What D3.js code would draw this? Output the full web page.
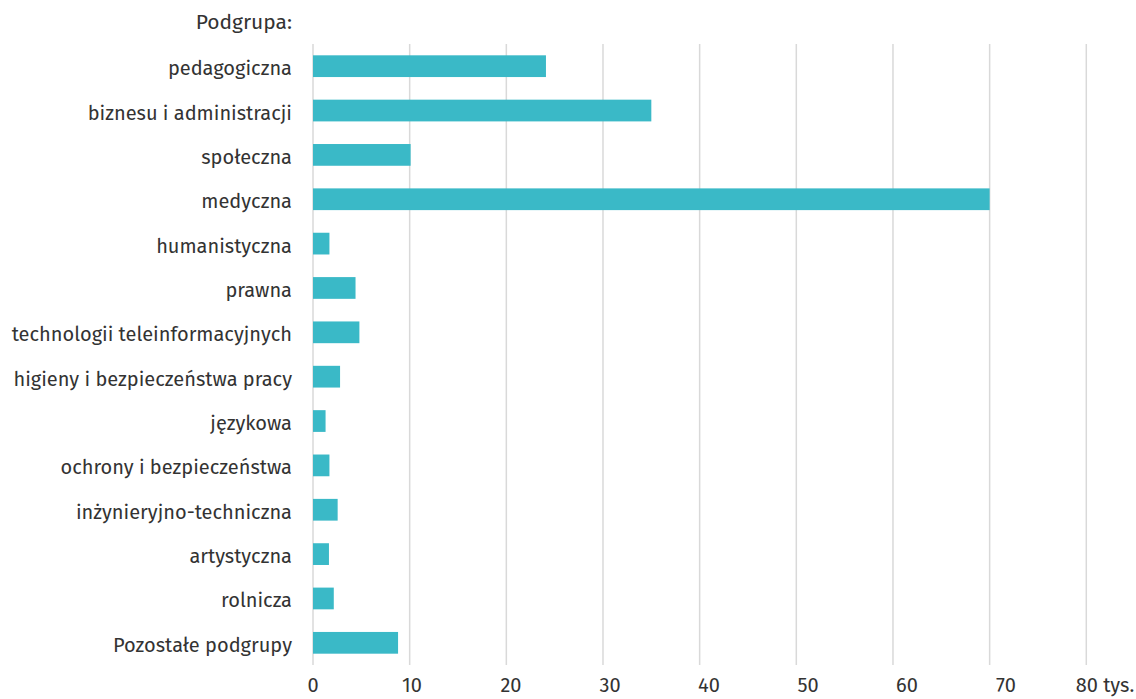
<!DOCTYPE html>
<html>
<head>
  <meta charset="utf-8">
  <title>Podgrupa</title>
  <style>
    body { margin: 0; background: #fff; }
    svg text { font-family: "Fira Sans", Roboto, "Noto Sans", sans-serif; fill: #333; }
  </style>
</head>
<body>
  <svg width="1136" height="699" class="svg-chart"></svg>
<script src="https://cdnjs.cloudflare.com/ajax/libs/d3/7.8.5/d3.min.js"></script>
<script type="text/javascript">
  var categories = ['pedagogiczna', 'biznesu i administracji', 'społeczna', 'medyczna',
                    'humanistyczna', 'prawna', 'technologii teleinformacyjnych',
                    'higieny i bezpieczeństwa pracy', 'językowa', 'ochrony i bezpieczeństwa',
                    'inżynieryjno-techniczna', 'artystyczna', 'rolnicza', 'Pozostałe podgrupy']
  var values = [24.1, 35.0, 10.1, 70.0, 1.7, 4.4, 4.8, 2.8, 1.3, 1.7, 2.55, 1.65, 2.15, 8.8]
  var ticks = [0, 10, 20, 30, 40, 50, 60, 70, 80]
  var tickLabels = ['0', '10', '20', '30', '40', '50', '60', '70', '80 tys.']

  var svg = d3.select('.svg-chart')
  var plotLeft = 313, plotRight = 1086.3, plotTop = 44, plotBottom = 665

  var x = d3.scaleLinear().domain([0, 80]).range([plotLeft, plotRight])
  // tick labels are spread a bit wider than the gridlines in the original
  var xLabel = d3.scaleLinear().domain([0, 80]).range([plotLeft, 1105])
  var y = d3.scaleBand().domain(categories).range([plotTop, plotBottom]).paddingInner(0.51).paddingOuter(0.255)

  // gridlines
  svg.append('g').selectAll('line')
    .data(ticks)
    .enter()
    .append('line')
    .attr('x1', function(d){ return x(d) })
    .attr('x2', function(d){ return x(d) })
    .attr('y1', plotTop)
    .attr('y2', plotBottom)
    .attr('stroke', '#d9d9d9')
    .attr('stroke-width', 1.5)

  // x tick labels
  svg.append('g').selectAll('text')
    .data(ticks)
    .enter()
    .append('text')
    .attr('x', function(d){ return xLabel(d) })
    .attr('y', 692)
    .attr('text-anchor', 'middle')
    .style('font-size', '20px')
    .text(function(d, i){ return tickLabels[i] })

  // bars
  svg.append('g').selectAll('rect')
    .data(values)
    .enter()
    .append('rect')
    .attr('x', x(0))
    .attr('y', function(d, i){ return y(categories[i]) })
    .attr('width', function(d){ return x(d) - x(0) })
    .attr('height', y.bandwidth())
    .attr('fill', '#3ab9c7')

  // category labels
  svg.append('g').selectAll('text')
    .data(categories)
    .enter()
    .append('text')
    .attr('x', 292)
    .attr('y', function(d){ return y(d) + y.bandwidth() / 2 })
    .attr('dy', '0.45em')
    .attr('text-anchor', 'end')
    .style('font-size', '20px')
    .text(function(d){ return d })

  svg.append('text')
    .attr('x', 292)
    .attr('y', 22)
    .attr('dy', '0.35em')
    .attr('text-anchor', 'end')
    .style('font-size', '21px')
    .text('Podgrupa:')
</script>
</body>
</html>
